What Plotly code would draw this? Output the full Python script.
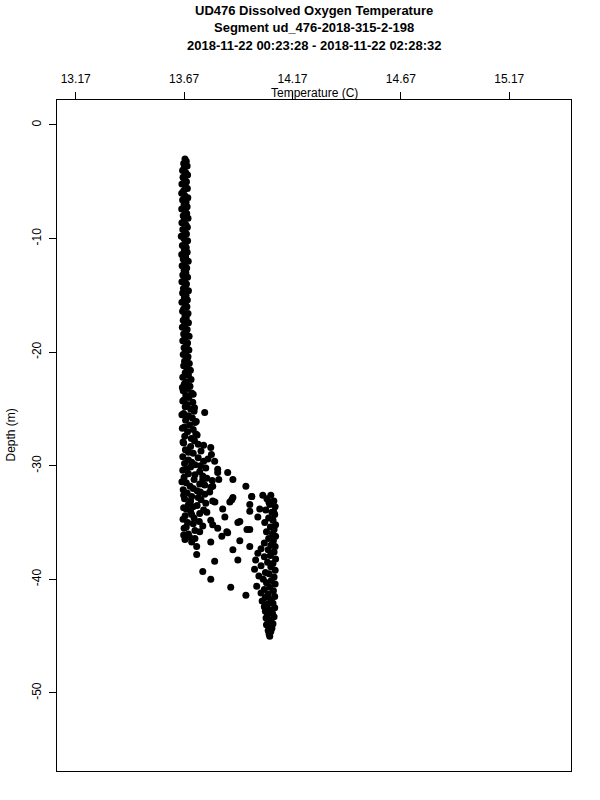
import plotly.graph_objects as go

# ---- tick labels ----
x_ticks = [13.17, 13.67, 14.17, 14.67, 15.17]
x_ticktext = ["13.17", "13.67", "14.17", "14.67", "15.17"]
y_ticks = [0, -10, -20, -30, -40, -50]
y_ticktext = ["0", "-10", "-20", "-30", "-40", "-50"]

title_lines = [
    "UD476 Dissolved Oxygen Temperature",
    "Segment ud_476-2018-315-2-198",
    "2018-11-22 00:23:28 - 2018-11-22 02:28:32",
]

# ---- upper well-mixed column (depth m, temperature C) ----
upper_depth = [
    -3.0, -3.2, -3.4, -3.6, -3.8, -4.0, -4.2, -4.4, -4.6, -4.8,
    -5.0, -5.2, -5.4, -5.6, -5.8, -6.0, -6.2, -6.4, -6.6, -6.8,
    -7.0, -7.2, -7.4, -7.6, -7.8, -8.0, -8.2, -8.4, -8.6, -8.8,
    -9.0, -9.2, -9.4, -9.6, -9.8, -10.0, -10.2, -10.4, -10.6, -10.8,
    -11.0, -11.2, -11.4, -11.6, -11.8, -12.0, -12.2, -12.4, -12.6, -12.8,
    -13.0, -13.2, -13.4, -13.6, -13.8, -14.0, -14.2, -14.4, -14.6, -14.8,
    -15.0, -15.2, -15.4, -15.6, -15.8, -16.0, -16.2, -16.4, -16.6, -16.8,
    -17.0, -17.2, -17.4, -17.6, -17.8, -18.0, -18.2, -18.4, -18.6, -18.8,
    -19.0, -19.2, -19.4, -19.6, -19.8, -20.0, -20.2, -20.4, -20.6, -20.8,
]
upper_temp = [
    13.674, 13.680, 13.668, 13.684, 13.670, 13.663, 13.678, 13.686, 13.665, 13.672,
    13.681, 13.660, 13.676, 13.685, 13.667, 13.659, 13.673, 13.687, 13.663, 13.679,
    13.670, 13.684, 13.659, 13.675, 13.682, 13.666, 13.688, 13.671, 13.660, 13.679,
    13.685, 13.664, 13.674, 13.681, 13.657, 13.669, 13.686, 13.676, 13.662, 13.680,
    13.671, 13.684, 13.659, 13.677, 13.666, 13.689, 13.673, 13.661, 13.682, 13.670,
    13.678, 13.664, 13.686, 13.672, 13.660, 13.681, 13.675, 13.667, 13.690, 13.663,
    13.679, 13.671, 13.685, 13.660, 13.676, 13.683, 13.668, 13.663, 13.688, 13.674,
    13.680, 13.666, 13.690, 13.672, 13.662, 13.684, 13.678, 13.668, 13.693, 13.674,
    13.664, 13.686, 13.681, 13.670, 13.692, 13.677, 13.666, 13.688, 13.683, 13.672,
]

# ---- widening column above the thermocline ----
mid_depth = [
    -21.0, -21.2, -21.4, -21.6, -21.8, -22.0, -22.2, -22.4, -22.6, -22.8,
    -23.0, -23.2, -23.4, -23.6, -23.8, -24.0, -24.2, -24.4, -24.6, -24.8,
    -25.0, -25.2, -25.4, -25.6, -25.8, -26.0, -26.2, -26.4, -26.6, -26.8,
    -27.0, -27.2, -27.4, -27.6, -27.8,
    -23.1, -23.7, -24.3, -24.9, -25.3, -25.5, -26.1, -26.7, -27.3, -27.9,
]
mid_temp = [
    13.694, 13.668, 13.683, 13.699, 13.675, 13.690, 13.664, 13.702, 13.680, 13.671,
    13.697, 13.686, 13.666, 13.705, 13.678, 13.692, 13.669, 13.710, 13.684, 13.675,
    13.700, 13.716, 13.668, 13.690, 13.708, 13.677, 13.720, 13.695, 13.670, 13.712,
    13.686, 13.724, 13.673, 13.703, 13.718,
    13.662, 13.712, 13.664, 13.718, 13.765, 13.660, 13.726, 13.662, 13.730, 13.665,
]

# ---- thermocline: cold side ----
cold_depth = [
    -28.0, -28.1, -28.3, -28.4, -28.6, -28.7, -28.9, -29.0, -29.2, -29.3,
    -29.5, -29.6, -29.8, -29.9, -30.1, -30.2, -30.4, -30.5, -30.6, -30.7,
    -30.9, -31.0, -31.2, -31.3, -31.5, -31.6, -31.8, -31.9, -32.1, -32.2,
    -32.4, -32.5, -32.7, -32.9, -33.0, -33.2, -33.4, -33.5, -33.7, -33.9,
    -34.0, -34.2, -34.4, -34.6, -34.8, -35.0, -35.3, -35.5, -35.7, -36.0,
    -36.3, -36.5, -36.7, -37.1, -37.8, -38.4, -39.3, -40.0,
    -28.2, -28.8, -29.4, -29.7, -30.0, -30.3, -30.8, -31.1, -31.4, -31.7,
    -32.0, -32.3, -32.6, -32.8, -33.1, -33.3, -33.6, -33.8, -34.1, -34.3,
    -34.7, -34.9, -35.1, -35.4, -35.8, -36.1, -36.4,
]
cold_temp = [
    13.668, 13.735, 13.700, 13.793, 13.676, 13.748, 13.712, 13.796, 13.664, 13.735,
    13.690, 13.760, 13.672, 13.720, 13.700, 13.770, 13.664, 13.742, 13.825, 13.690,
    13.756, 13.670, 13.716, 13.800, 13.680, 13.742, 13.698, 13.793, 13.666, 13.730,
    13.684, 13.765, 13.705, 13.672, 13.748, 13.812, 13.690, 13.730, 13.668, 13.760,
    13.700, 13.742, 13.675, 13.716, 13.793, 13.686, 13.756, 13.670, 13.720, 13.690,
    13.696, 13.674, 13.705, 13.728, 13.728, 13.811, 13.756, 13.793,
    13.760, 13.690, 13.780, 13.705, 13.745, 13.682, 13.720, 13.775, 13.660, 13.765,
    13.712, 13.745, 13.668, 13.735, 13.700, 13.770, 13.712, 13.680, 13.775, 13.705,
    13.665, 13.740, 13.712, 13.680, 13.742, 13.668, 13.720,
]

# ---- thermocline: scattered transition points ----
scatter_depth = [
    -30.6, -31.2, -31.8, -32.6, -32.7, -33.2, -34.1, -34.0, -34.5, -33.0,
    -33.8, -35.0, -35.5, -35.8, -35.6, -36.6, -36.7, -36.2, -37.4, -37.1,
    -38.3, -40.7, -41.4, -31.2, -31.8, -32.3, -31.2, -32.8, -33.2, -33.1,
    -34.5, -34.9, -35.6, -35.9, -35.2, -32.7, -33.4, -33.8, -30.3, -29.6,
]
scatter_temp = [
    13.871, 13.895, 13.955, 14.033, 13.982, 14.061, 14.084, 13.973, 14.010, 13.890,
    13.848, 13.918, 13.825, 13.867, 13.960, 13.927, 13.793, 13.844, 13.895, 13.973,
    13.918, 13.885, 13.955, 13.756, 13.802, 13.788, 13.830, 13.895, 13.881, 13.802,
    13.858, 13.927, 13.973, 13.871, 13.802, 13.982, 13.973, 14.019, 13.825, 13.811,
]

# ---- warm bottom layer ----
warm_depth = [
    -32.6, -32.9, -33.1, -33.4, -33.6, -33.9, -34.1, -34.3, -34.6, -34.8,
    -35.0, -35.2, -35.4, -35.6, -35.8, -36.0, -36.2, -36.4, -36.6, -36.8,
    -37.0, -37.1, -37.3, -37.4, -37.6, -37.7, -37.9, -38.0, -38.2, -38.3,
    -38.5, -38.6, -38.8, -38.9, -39.1, -39.2, -39.4, -39.5, -39.7, -39.8,
    -40.0, -40.1, -40.3, -40.4, -40.6, -40.7, -40.9, -41.0, -41.2, -41.3,
    -41.5, -41.6, -41.8, -41.9, -42.1, -42.2, -42.4, -42.5, -42.7, -42.8,
    -43.0, -43.1, -43.3, -43.4, -43.6, -43.7, -43.9, -44.0, -44.2, -44.3,
    -44.5, -44.6, -44.8, -45.0,
]
warm_temp = [
    14.070, 14.052, 14.084, 14.065, 14.090, 14.047, 14.075, 14.088, 14.060, 14.080,
    14.042, 14.092, 14.068, 14.085, 14.050, 14.078, 14.092, 14.060, 14.082, 14.040,
    14.070, 14.090, 14.025, 14.058, 14.085, 14.010, 14.068, 14.040, 14.092, 14.000,
    14.055, 14.080, 14.025, 14.070, 13.995, 14.090, 14.045, 14.062, 14.015, 14.085,
    14.035, 14.072, 14.050, 14.090, 14.005, 14.065, 14.040, 14.082, 14.025, 14.058,
    14.088, 14.045, 14.070, 14.030, 14.080, 14.055, 14.040, 14.088, 14.065, 14.045,
    14.078, 14.055, 14.085, 14.048, 14.070, 14.058, 14.080, 14.050, 14.068, 14.075,
    14.058, 14.070, 14.062, 14.065,
]

depth = upper_depth + mid_depth + cold_depth + scatter_depth + warm_depth
temp = upper_temp + mid_temp + cold_temp + scatter_temp + warm_temp

FONT = "Liberation Sans, Arial, Helvetica, sans-serif"

fig = go.Figure(
    go.Scatter(
        x=temp, y=depth, mode="markers",
        marker=dict(color="black", size=7, line=dict(width=0)),
        hoverinfo="x+y",
    )
)

annotations = []
for line, shift in zip(title_lines, [90, 73, 55]):
    annotations.append(dict(
        text="<b>" + line + "</b>", xref="paper", yref="paper",
        x=0.5, y=1.0, yshift=shift, xanchor="center", yanchor="middle",
        showarrow=False, font=dict(size=13, color="black"),
    ))
annotations.append(dict(text="Temperature (C)", xref="paper", yref="paper",
                        x=0.5, y=1.0, yshift=7, xanchor="center", yanchor="middle",
                        showarrow=False, font=dict(size=12)))
annotations.append(dict(text="Depth (m)", xref="paper", yref="paper",
                        x=0, xshift=-47, y=0.5, xanchor="center", yanchor="middle",
                        textangle=-90, showarrow=False, font=dict(size=12)))

fig.update_layout(
    width=600, height=800,
    margin=dict(l=57, r=29, t=100, b=29),
    paper_bgcolor="white", plot_bgcolor="white",
    showlegend=False,
    font=dict(family=FONT, size=12, color="black"),
    xaxis=dict(
        side="top", range=[13.0837, 15.4547],
        tickvals=x_ticks, ticktext=x_ticktext,
        ticks="outside", ticklen=7, tickcolor="black", tickwidth=1,
        ticklabelstandoff=4,
        showline=True, linecolor="black", linewidth=1, mirror=True,
        showgrid=False, zeroline=False,
        tickfont=dict(size=12),
    ),
    yaxis=dict(
        range=[-56.87, 2.2],
        tickvals=y_ticks, ticktext=y_ticktext, tickangle=-90,
        ticks="outside", ticklen=7, tickcolor="black", tickwidth=1,
        ticklabelstandoff=3,
        showline=True, linecolor="black", linewidth=1, mirror=True,
        showgrid=False, zeroline=False,
        tickfont=dict(size=12),
    ),
    annotations=annotations,
)

# remove the browser's default 8px body margin so the 600x800 figure fills the window
fig.write_html(
    "out.html",
    config={"displayModeBar": False},
    post_script="document.body.style.margin='0';document.body.style.overflow='hidden';",
)
